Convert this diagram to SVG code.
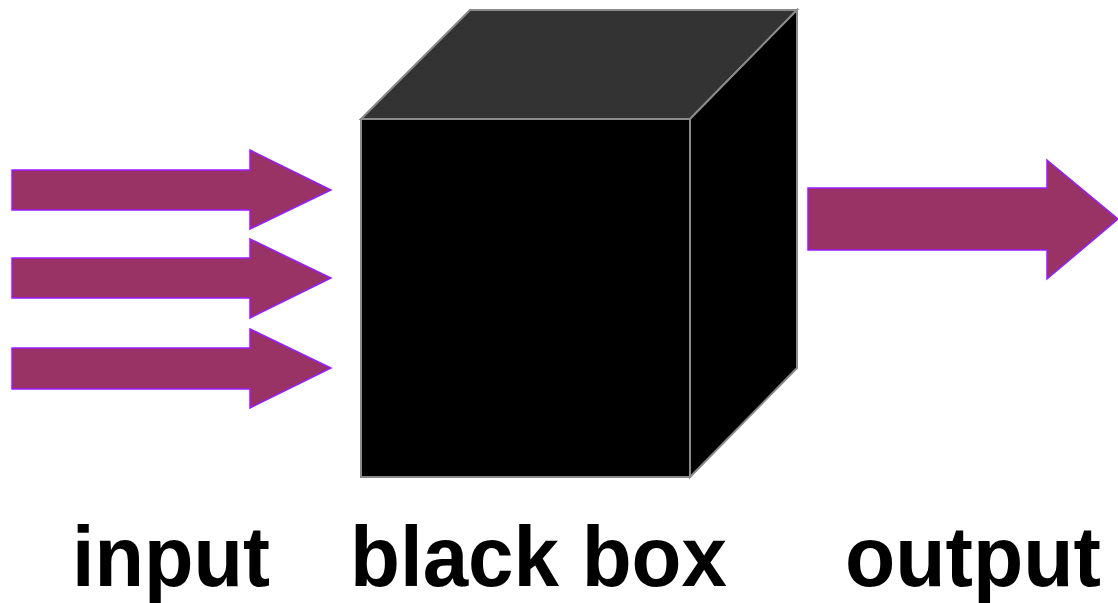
<svg xmlns="http://www.w3.org/2000/svg" width="1118" height="603" viewBox="0 0 1118 603">
<style>
.arrow{fill:#993366;stroke:#9a1cff;stroke-width:1.5;stroke-linejoin:miter}
.edge{stroke:#8a8a8a;stroke-width:2;stroke-linejoin:miter}
.label{font-family:"Liberation Sans",Arial,sans-serif;font-weight:bold;font-size:85px;fill:#000}
</style>
<rect width="1118" height="603" fill="#fff"/>
<g id="connectors">
<polygon id="in1" class="arrow" points="12,170 250,170 250,150 331,190 250,229 250,210 12,210"/>
<polygon id="in2" class="arrow" points="12,258 250,258 250,239 331,278 250,318 250,298 12,298"/>
<polygon id="in3" class="arrow" points="12,348 250,348 250,329 331,368 250,408 250,389 12,389"/>
<polygon id="out" class="arrow" points="808,188 1047,188 1047,160 1118,219 1047,279 1047,250 808,250"/>
</g>
<g id="blackbox">
<polygon class="edge" fill="#333333" points="361,119 470,10 797,10 690,119"/>
<polygon class="edge" fill="#000" points="690,119 797,10 797,368 690,477"/>
<rect class="edge" fill="#000" x="361" y="119" width="329" height="358"/>
</g>
<g id="labels">
<text class="label" x="72" y="586" textLength="198" lengthAdjust="spacingAndGlyphs">input</text>
<text class="label" x="350" y="586" textLength="377" lengthAdjust="spacingAndGlyphs">black box</text>
<text class="label" x="845" y="586" textLength="256" lengthAdjust="spacingAndGlyphs">output</text>
</g>
</svg>
